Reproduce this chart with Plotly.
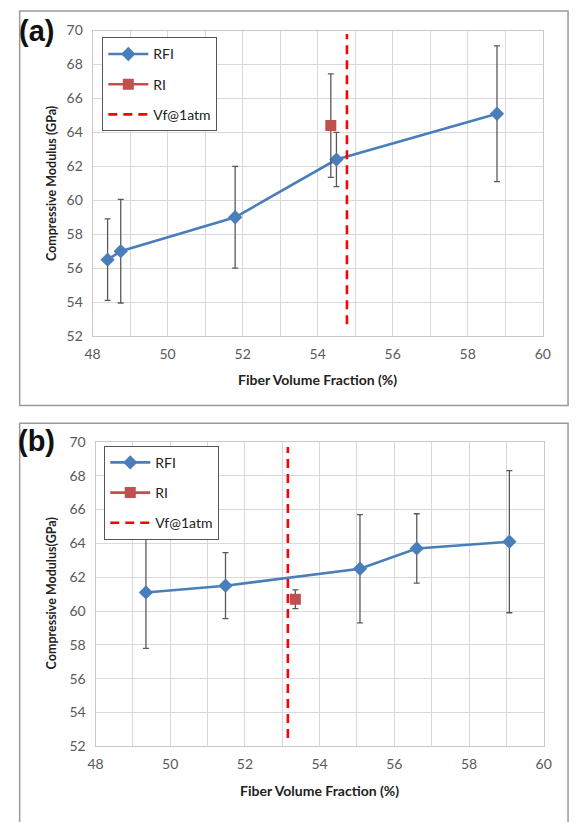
import plotly.graph_objects as go

# ---------------- data ----------------
# Panel (a)
a_rfi_x = [48.40, 48.75, 51.80, 54.50, 58.78]
a_rfi_y = [56.5, 57.0, 59.0, 62.4, 65.1]
a_rfi_err = [2.4, 3.05, 3.0, 1.6, 4.0]
a_ri_x = [54.35]
a_ri_y = [64.4]
a_ri_err = [3.05]
a_vf_x = [54.78, 54.78]
a_vf_y = [52.7, 69.8]

# Panel (b)
b_rfi_x = [49.35, 51.48, 55.08, 56.60, 59.08]
b_rfi_y = [61.1, 61.5, 62.5, 63.7, 64.1]
b_rfi_err = [3.3, 1.95, 3.2, 2.05, 4.2]
b_ri_x = [53.35]
b_ri_y = [60.7]
b_ri_err = [0.55]
b_vf_x = [53.15, 53.15]
b_vf_y = [52.5, 69.7]

x_range = [48, 60]
y_range = [52, 70]

W, H = 578, 822
BLUE = "#4a7ebb"
RED_M = "#c0504d"
ERR = "#595959"
FONT = "Lato"

def px(x):
    return x / W

def py(y):
    return 1 - y / H

fig = go.Figure()

def add_panel(tag, rx, ry, rerr, ix, iy, ierr, vx, vy, xa, ya, leg):
    fig.add_trace(go.Scatter(
        x=rx, y=ry, mode="lines+markers", name="RFI", legendgroup=tag + "rfi",
        line=dict(color=BLUE, width=2.6),
        marker=dict(symbol="diamond", size=11, color=BLUE),
        error_y=dict(type="data", array=rerr, visible=True, color=ERR, thickness=1.3, width=3),
        xaxis=xa, yaxis=ya, legend=leg))
    fig.add_trace(go.Scatter(
        x=ix, y=iy, mode="lines+markers", name="RI", legendgroup=tag + "ri",
        line=dict(color=RED_M, width=2.6),
        marker=dict(symbol="square", size=11, color=RED_M),
        error_y=dict(type="data", array=ierr, visible=True, color=ERR, thickness=1.3, width=3),
        xaxis=xa, yaxis=ya, legend=leg))
    fig.add_trace(go.Scatter(
        x=vx, y=vy, mode="lines", name="Vf@1atm", legendgroup=tag + "vf",
        line=dict(color="#ff0000", width=2.6, dash="9px,6px"),
        xaxis=xa, yaxis=ya, legend=leg))

add_panel("a", a_rfi_x, a_rfi_y, a_rfi_err, a_ri_x, a_ri_y, a_ri_err, a_vf_x, a_vf_y, "x", "y", "legend")
add_panel("b", b_rfi_x, b_rfi_y, b_rfi_err, b_ri_x, b_ri_y, b_ri_err, b_vf_x, b_vf_y, "x2", "y2", "legend2")

tickfont = dict(family=FONT, size=14, color="#595959")

def xaxis(domain, anchor):
    return dict(domain=domain, anchor=anchor, range=x_range, dtick=2, tick0=48,
                showgrid=True, gridcolor="#d9d9d9", gridwidth=1,
                minor=dict(dtick=1, showgrid=True, gridcolor="#d9d9d9", gridwidth=1),
                showline=True, linecolor="#c8c8c8", linewidth=1, mirror=True,
                zeroline=False, tickfont=tickfont, ticks="", ticklabelstandoff=5)

def yaxis(domain, anchor):
    return dict(domain=domain, anchor=anchor, range=y_range, dtick=2, tick0=52,
                showgrid=True, gridcolor="#d9d9d9", gridwidth=1,
                showline=True, linecolor="#c8c8c8", linewidth=1, mirror=True,
                zeroline=False, tickfont=tickfont, ticks="", ticklabelstandoff=6)

leg_common = dict(font=dict(family=FONT, size=14, color="#222222"),
                  bordercolor="#555555", borderwidth=1, bgcolor="white",
                  xanchor="left", yanchor="top", itemwidth=40, tracegroupgap=9)

fig.update_layout(
    width=W, height=H, margin=dict(l=0, r=0, t=0, b=0),
    paper_bgcolor="white", plot_bgcolor="white",
    xaxis=xaxis([px(87), px(550)], "y"),
    yaxis=yaxis([py(334), py(22)], "x"),
    xaxis2=xaxis([px(90), px(551)], "y2"),
    yaxis2=yaxis([py(753), py(442)], "x2"),
    legend=dict(x=px(97), y=py(29), **leg_common),
    legend2=dict(x=px(99), y=py(446), **leg_common),
    showlegend=True,
)

# panel borders
fig.add_shape(type="rect", xref="paper", yref="paper",
              x0=px(12), x1=px(576), y0=py(405), y1=py(2),
              line=dict(color="#9a9a9a", width=1.5), layer="below")
fig.add_shape(type="rect", xref="paper", yref="paper",
              x0=px(12), x1=px(576), y0=py(840), y1=py(423),
              line=dict(color="#9a9a9a", width=1.5), layer="below")

ann_font_bold = dict(family=FONT, size=12.5, color="#222222")
annots = [
    dict(text="<b>(a)</b>", x=px(29), y=py(22), font=dict(family="Liberation Sans", size=29, color="#111111")),
    dict(text="<b>(b)</b>", x=px(29), y=py(441), font=dict(family="Liberation Sans", size=29, color="#111111")),
    dict(text="<b>Compressive Modulus (GPa)</b>", x=px(45), y=py(178), textangle=-90, font=ann_font_bold),
    dict(text="<b>Compressive Modulus(GPa)</b>", x=px(45), y=py(597), textangle=-90, font=ann_font_bold),
    dict(text="<b>Fiber Volume Fraction (%)</b>", x=px(318), y=py(378), font=dict(family=FONT, size=14, color="#222222")),
    dict(text="<b>Fiber Volume Fraction (%)</b>", x=px(320), y=py(798), font=dict(family=FONT, size=14, color="#222222")),
]
for a in annots:
    fig.add_annotation(xref="paper", yref="paper", showarrow=False,
                       xanchor="center", yanchor="middle", **a)

fig.write_html("out.html")
